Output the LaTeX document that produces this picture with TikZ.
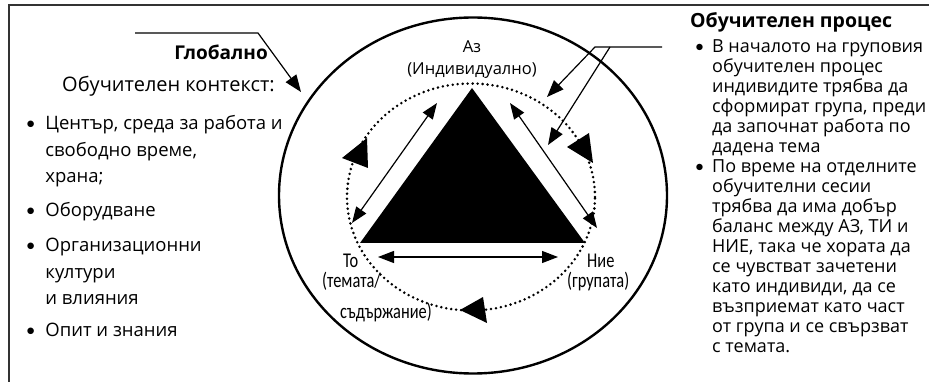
\documentclass[tikz,border=0pt]{standalone}
\usepackage{fontspec}
\setmainfont{Open Sans}
\newfontfamily\narrowfont[FakeStretch=0.78]{Carlito}
\newfontfamily\bulletfont{Carlito}
\newcommand{\itemdot}{{\bulletfont\textbullet}}
\usetikzlibrary{arrows.meta, positioning, calc}
\definecolor{frgray}{HTML}{333333}

\begin{document}
\begin{tikzpicture}[
  x=1pt, y=-1pt,
  every node/.style={inner sep=0pt, font=\fontsize{18.5}{26.5}\selectfont},
  frame/.style={draw=frgray, line width=1.4pt},
  outer/.style={draw, line width=2.4pt},
  orbit/.style={draw, line width=2.8pt, dash pattern=on 0pt off 5pt, line cap=round},
  pointer/.style={draw, line width=1.2pt, -{Triangle[length=17pt, width=13pt]}},
  twoway/.style={draw, line width=1.2pt, {Triangle[length=16pt, width=12pt]}-{Triangle[length=16pt, width=12pt]}},
  lbl/.style={font=\fontsize{16.5}{20}\selectfont},
  nlbl/.style={font=\narrowfont\fontsize{21}{23}\selectfont},
]
\useasboundingbox (0,0) rectangle (929,382);

\draw[frame] (9,382) -- (9,5) -- (929,5);

\draw[outer] (473,195.5) ellipse [x radius=194pt, y radius=178pt];
\draw[orbit] (471,197) ellipse [x radius=124pt, y radius=113.5pt];

\fill (472,88) -- (360,243) -- (585,243) -- cycle;

\fill (342,158) -- (367,138) -- (368,168) -- cycle;
\fill (567,147) -- (589,133) -- (593,163) -- cycle;
\fill (460,310) -- (483,297) -- (487,323) -- cycle;

\node[lbl, anchor=base] (az) at (472,53) {Аз};
\node[lbl, anchor=base] (indiv) at (472,75) {(Индивидуално)};
\node[nlbl, anchor=base west] (to) at (343,267) {То};
\node[nlbl, anchor=base west] (tema) at (322,287) {(темата/};
\node[nlbl, anchor=base west] (sadarj) at (340,318) {съдържание)};
\node[nlbl, anchor=base west] (nie) at (587,267) {Ние};
\node[nlbl, anchor=base west] (grupa) at (567,287) {(групата)};

\node[anchor=base east, font=\fontsize{19}{26.5}\selectfont\bfseries] (glob) at (268,60) {Глобално};
\node[anchor=base west, font=\fontsize{20}{26.5}\selectfont] (ctx) at (62,92) {Обучителен контекст:};
\node[anchor=base west] (ctxlist) at (26,130) {%
  \begin{tabular}[t]{@{}l@{\hspace{10pt}}l@{}}
  \itemdot & Център, среда за работа и\\
  & свободно време,\\
  & храна;\\[7pt]
  \itemdot & Оборудване\\[9pt]
  \itemdot & Организационни\\
  & култури\\
  & и влияния\\[5pt]
  \itemdot & Опит и знания
  \end{tabular}};

\node[anchor=base west, font=\fontsize{19.5}{24}\selectfont\bfseries] (proc) at (690,28) {Обучителен процес};
\node[anchor=base west, font=\fontsize{18}{20}\selectfont] (proclist) at (695,53) {%
  \begin{tabular}[t]{@{}l@{\hspace{8pt}}l@{}}
  \itemdot & В началото на груповия\\
  & обучителен процес\\
  & индивидите трябва да\\
  & сформират група, преди\\
  & да започнат работа по\\
  & дадена тема\\
  \itemdot & По време на отделните\\
  & обучителни сесии\\
  & трябва да има добър\\
  & баланс между АЗ, ТИ и\\
  & НИЕ, така че хората да\\
  & се чувстват зачетени\\
  & като индивиди, да се\\
  & възприемат като част\\
  & от група и се свързват\\
  & с темата.
  \end{tabular}};

\coordinate (globs) at (135,33);
\coordinate (globk) at (258,33);
\coordinate (globt) at (301,92);
\coordinate (procs) at (662,47);
\coordinate (prock) at (595,47);
\coordinate (procm) at (610,47);
\coordinate (proct) at (547,97);
\coordinate (procu) at (548,145);
\coordinate (itlo) at (352,223);
\coordinate (itup) at (437,103);
\coordinate (weup) at (510,103);
\coordinate (welo) at (597,228);
\coordinate (itbase) at (378,257);
\coordinate (webase) at (558,257);

\draw[pointer] (globs) -- (globk) -- (globt);
\draw[pointer] (procs) -- (prock) -- (proct);
\draw[pointer] (procm) -- (procu);
\draw[twoway] (itlo) -- (itup);
\draw[twoway] (weup) -- (welo);
\draw[twoway] (itbase) -- (webase);

\end{tikzpicture}
\end{document}
